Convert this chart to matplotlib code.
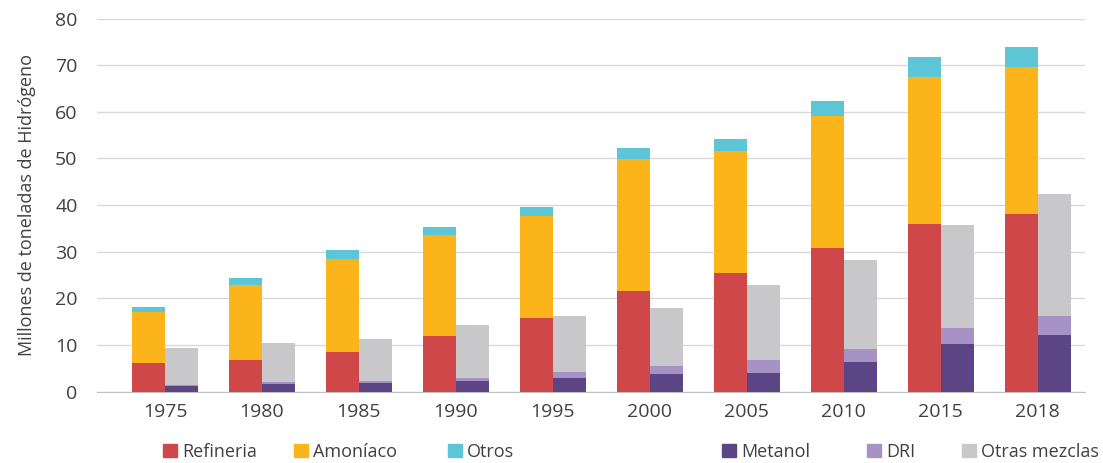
import numpy as np
import matplotlib
matplotlib.use("Agg")
import matplotlib.pyplot as plt
from matplotlib.patches import Patch

plt.rcParams['font.family'] = ['Open Sans', 'DejaVu Sans']

years = ['1975', '1980', '1985', '1990', '1995', '2000', '2005', '2010', '2015', '2018']

# left bar of each year (Mt H2)
refineria = [6.1, 6.8, 8.5, 11.9, 15.7, 21.5, 25.4, 30.8, 36.0, 38.1]
amoniaco = [10.9, 16.1, 19.9, 21.6, 21.9, 28.3, 26.1, 28.3, 31.5, 31.6]
otros = [1.1, 1.5, 2.0, 1.7, 2.1, 2.4, 2.7, 3.3, 4.2, 4.1]

# right bar of each year
metanol = [1.3, 1.65, 1.9, 2.2, 2.9, 3.8, 4.1, 6.3, 10.2, 12.2]
dri = [0.1, 0.35, 0.5, 0.7, 1.4, 1.7, 2.6, 2.9, 3.4, 4.1]
otras_mezclas = [8.0, 8.4, 9.0, 11.4, 12.0, 12.5, 16.1, 19.0, 22.1, 26.0]

left_series = [('Refineria', refineria, '#d0474a'),
               ('Amoníaco', amoniaco, '#fbb51a'),
               ('Otros', otros, '#5cc6d6')]
right_series = [('Metanol', metanol, '#5c4584'),
                ('DRI', dri, '#a792c6'),
                ('Otras mezclas', otras_mezclas, '#c8c8ca')]

text_col = '#404040'

fig = plt.figure(figsize=(11.03, 4.63), dpi=100)
ax = fig.add_axes([0.088, 0.154, 0.896, 0.806])

x = np.arange(len(years))
w = 0.34

bottom = np.zeros(len(years))
for name, vals, col in left_series:
    ax.bar(x - w / 2, vals, w, bottom=bottom, color=col, zorder=3)
    bottom += np.array(vals)

bottom = np.zeros(len(years))
for name, vals, col in right_series:
    ax.bar(x + w / 2, vals, w, bottom=bottom, color=col, zorder=3)
    bottom += np.array(vals)

ax.set_xlim(-0.70, 9.49)
ax.set_ylim(0, 80)
ax.set_yticks(range(0, 81, 10))
ax.set_xticks(x)
ax.set_xticklabels(years)
ax.tick_params(axis='both', length=0, labelsize=14, labelcolor=text_col)
ax.tick_params(axis='x', pad=8)
ax.tick_params(axis='y', pad=14)

ax.grid(axis='y', color='#d9d9d9', linewidth=1, zorder=0)
for s in ['top', 'right', 'left']:
    ax.spines[s].set_visible(False)
ax.spines['bottom'].set_color('#c0c0c0')

ax.set_ylabel('Millones de toneladas de Hidrógeno', fontsize=13, color=text_col)
ax.yaxis.set_label_coords(-0.062, 0.5)

# legend entries placed one by one (uneven spacing in the original)
leg_x = [163, 294, 448, 722, 867, 962]
entries = left_series + right_series
for px, (name, vals, col) in zip(leg_x, entries):
    fig.legend(handles=[Patch(color=col)], labels=[name],
               loc='center left', bbox_to_anchor=(px / 1103, 1 - 452 / 463),
               frameon=False, fontsize=13, labelcolor=text_col,
               handlelength=0.75, handleheight=0.75, handletextpad=0.3,
               borderpad=0, borderaxespad=0)

fig.savefig('out.png', dpi=100)
